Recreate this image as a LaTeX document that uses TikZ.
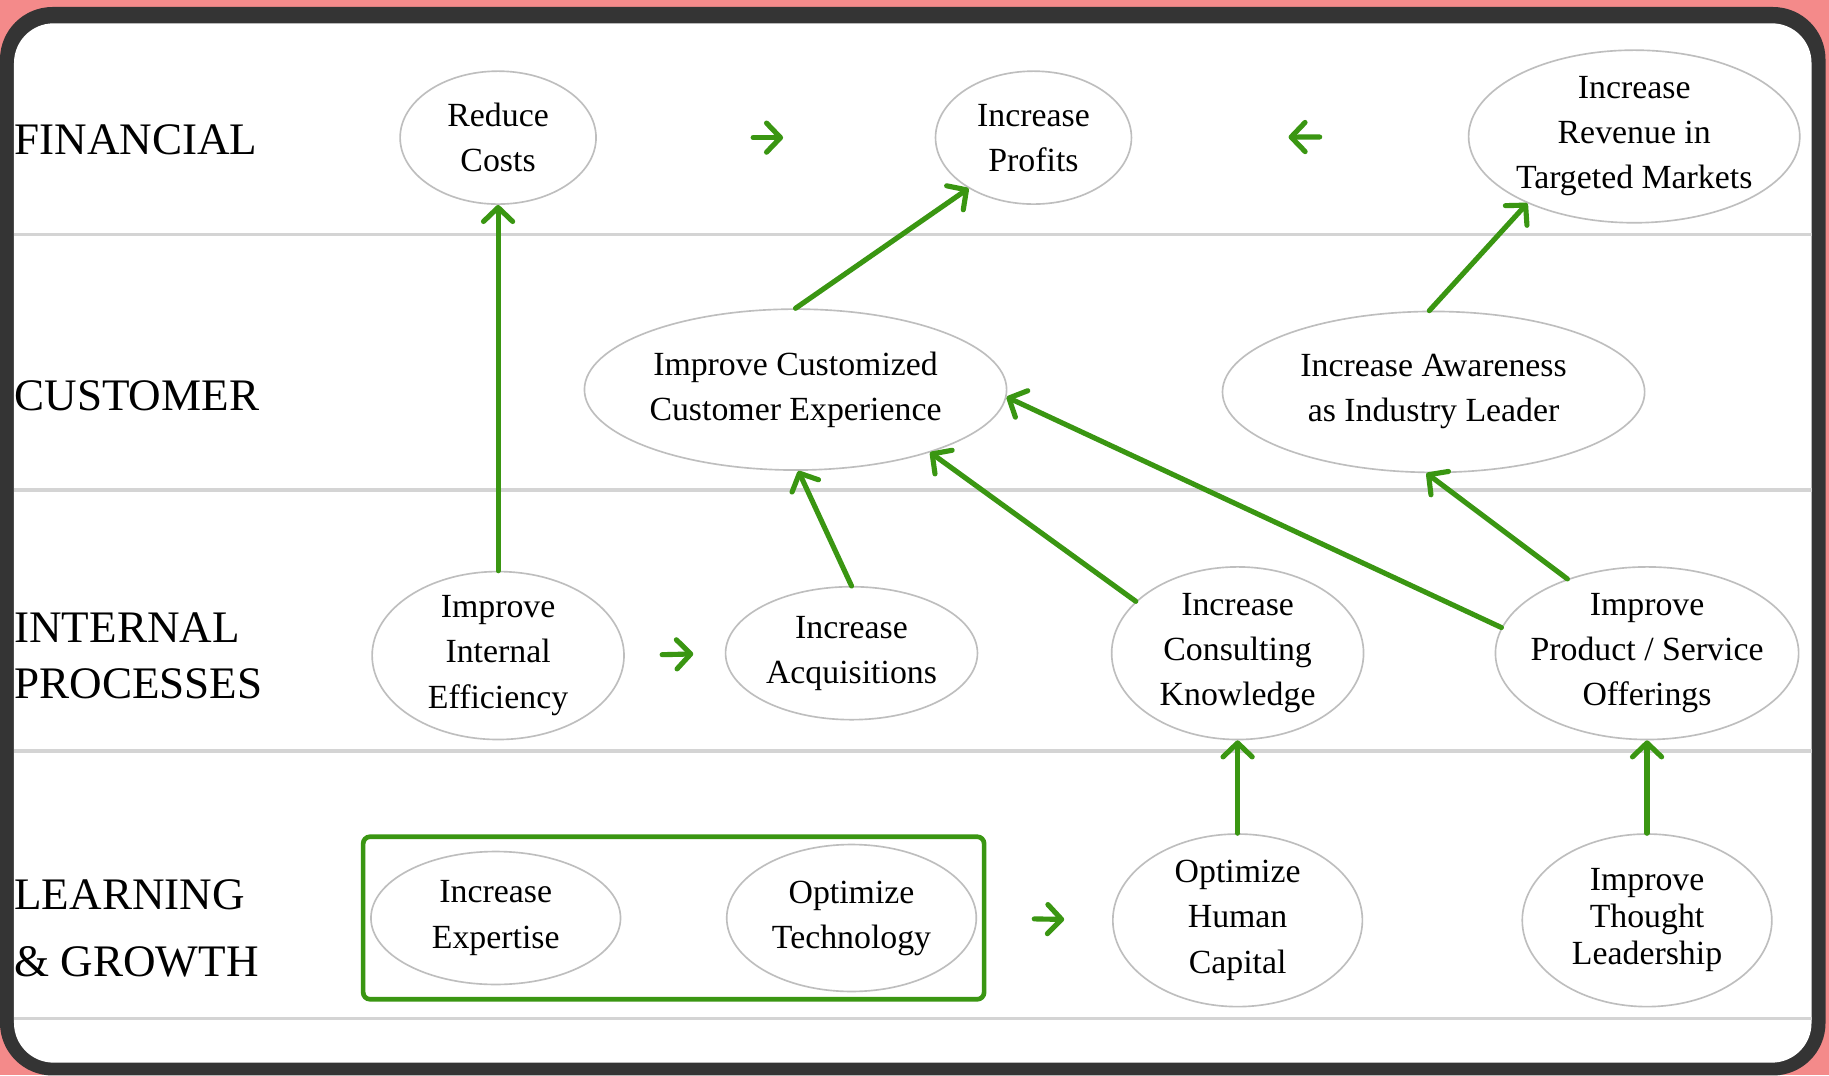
\documentclass[tikz,border=0pt]{standalone}
\usepackage{fontspec}
\setmainfont{Liberation Serif}
\usetikzlibrary{shapes.geometric, arrows.meta, fit}
\definecolor{mapgreen}{RGB}{58, 150, 18}
\definecolor{ovalgrey}{RGB}{190, 190, 190}
\definecolor{rulegrey}{RGB}{212, 212, 212}
\definecolor{framegrey}{RGB}{52, 52, 52}
\definecolor{pagepink}{RGB}{244, 138, 138}
\tikzstyle{goal} = [
  ellipse,
  draw=ovalgrey,
  line width=0.8pt,
  inner xsep=-0.16cm,
  inner ysep=-0.08cm,
  align=center,
  font=\fontsize{16.5pt}{22pt}\selectfont,
]
\tikzstyle{perspective} = [
  anchor=west,
  inner sep=0pt,
  align=left,
  font=\fontsize{22pt}{27.3pt}\selectfont,
]
\tikzstyle{link} = [
  draw=mapgreen,
  line width=2.5pt,
  line cap=round,
  -{Straight Barb[length=0.24cm, width=0.5cm, round]},
]
\tikzstyle{team} = [
  draw=mapgreen,
  line width=0.08cm,
  rounded corners=0.12cm,
  inner sep=0.12cm,
]

\begin{document}
\begin{tikzpicture}[x=0.02cm, y=-0.02cm]
  \useasboundingbox (0,0) rectangle (1568,922);

  % Frame
  \fill[pagepink] (0,0) rectangle (1568,922);
  \fill[framegrey, rounded corners=0.9cm] (0,6) rectangle (1565,922);
  \fill[white, rounded corners=0.68cm] (12,20) rectangle (1553,911);

  % Rules between the rows
  \foreach \y in {201, 420, 644, 873}
    \draw[rulegrey, line width=0.06cm] (12,\y) -- (1553,\y);

  % Row labels
  \node[perspective] (financial) at (12,120) {FINANCIAL};
  \node[perspective] (customer) at (12,339) {CUSTOMER};
  \node[perspective] (internal) at (12,562) {INTERNAL\\PROCESSES};
  \node[perspective] (learning) at (12,796) {LEARNING\\[5pt]\& GROWTH};

  % Goals
  \node[goal, minimum width=3.36cm, minimum height=2.28cm] (rc) at (427,118) {Reduce\\Costs};
  \node[goal, minimum width=3.36cm, minimum height=2.28cm] (ip) at (886,118) {Increase\\Profits};
  \node[goal, minimum width=5.68cm, minimum height=2.96cm] (rev) at (1401,117) {Increase\\Revenue in\\Targeted Markets};

  \node[goal, minimum width=7.24cm, minimum height=2.76cm] (cce) at (682,334) {Improve Customized\\Customer Experience};
  \node[goal, minimum width=7.24cm, minimum height=2.76cm] (aw) at (1229,336) {Increase Awareness\\as Industry Leader};

  \node[goal, minimum width=4.32cm, minimum height=2.88cm] (iie) at (427,562) {Improve\\Internal\\Efficiency};
  \node[goal, minimum width=4.32cm, minimum height=2.28cm] (acq) at (730,560) {Increase\\Acquisitions};
  \node[goal, minimum width=4.32cm, minimum height=2.96cm] (ck) at (1061,560) {Increase\\Consulting\\Knowledge};
  \node[goal, minimum width=5.2cm, minimum height=2.96cm] (pso) at (1412,560) {Improve\\Product / Service\\Offerings};

  \node[goal, minimum width=4.28cm, minimum height=2.28cm] (exp) at (425,787) {Increase\\Expertise};
  \node[goal, minimum width=4.28cm, minimum height=2.52cm] (tech) at (730,787) {Optimize\\Technology};
  \node[goal, minimum width=4.28cm, minimum height=2.96cm] (ohc) at (1061,789) {Optimize\\Human\\Capital};
  \node[goal, minimum width=4.28cm, minimum height=2.96cm] (tl) at (1412,789) {Improve\\[-4pt]Thought\\[-4pt]Leadership};

  % Box round the first two learning goals
  \node[team, fit=(exp)(tech)] (core) {};

  % Links
  \draw[link] (iie.north) -- (rc.south);
  \draw[link] (cce.north) -- (ip.218);
  \draw[link] (aw.93) -- (rev.212);
  \draw[link] (acq.north) -- (cce.272);
  \draw[link] (ck.153) -- (cce.335);
  \draw[link] (pso.170) -- (cce.358);
  \draw[link] (pso.137) -- (aw.265);
  \draw[link] (ohc.north) -- (ck.south);
  \draw[link] (tl.north) -- (pso.south);

  % Short links in the gaps
  \draw[link, shorten <=2.68cm, shorten >=2.6cm] (rc.east) -- (ip.west);
  \draw[link, shorten <=2.54cm, shorten >=2.68cm] (rev.west) -- (ip.east);
  \draw[link, shorten <=0.64cm, shorten >=0.54cm] (iie.east) -- (acq.west);
  \draw[link, shorten <=0.82cm, shorten >=0.82cm] (core.east) -- (ohc.west);
\end{tikzpicture}
\end{document}
